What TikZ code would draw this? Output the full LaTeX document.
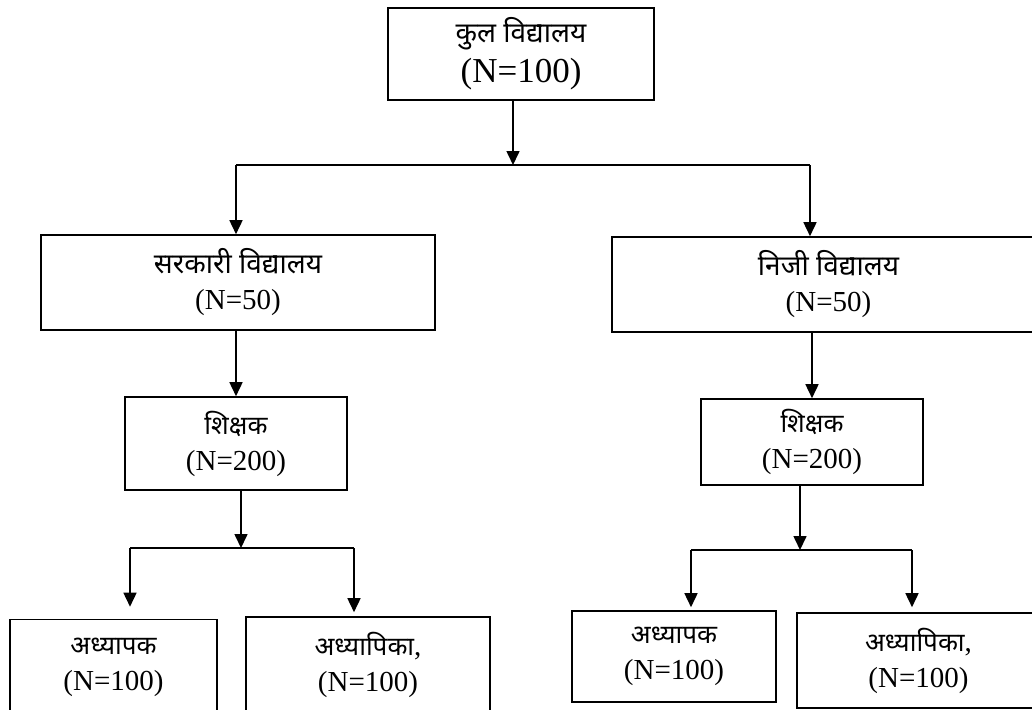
\documentclass[tikz,border=0pt]{standalone}
\usepackage{fontspec}
\setmainfont{Liberation Serif}
\newfontfamily\hindi[Script=Devanagari]{Noto Sans}
\newcommand\hin[1]{{\hindi\fontsize{26}{36}\selectfont #1}}
\usetikzlibrary{
	arrows.meta
}

\begin{document}
\begin{tikzpicture}[
		x=1pt, y=-1pt,
		line width=1.6pt,
		box/.style={draw, align=center, inner sep=0pt, font=\fontsize{29}{36}\selectfont},
		flow/.style={-{Triangle[width=13pt,length=14pt]}}
		]
		
		\clip (0,0) rectangle (1032,709);
		
		\node[box, minimum width=266pt, minimum height=92pt, font=\fontsize{35}{40}\selectfont] (total) at (521,54) {{\hindi\fontsize{28}{40}\selectfont कुल विद्यालय}\\(N=100)};
		
		\node[box, minimum width=394pt, minimum height=95pt] (gov) at (238,282.5) {{\hindi\fontsize{28}{36}\selectfont सरकारी विद्यालय}\\(N=50)};
		\node[box, minimum width=433pt, minimum height=95pt] (pvt) at (828.5,284.5) {{\hindi\fontsize{28}{36}\selectfont निजी विद्यालय}\\(N=50)};
		
		\node[box, minimum width=222pt, minimum height=93pt] (govT) at (236,443.5) {\hin{शिक्षक}\\(N=200)};
		\node[box, minimum width=222pt, minimum height=86pt] (pvtT) at (812,442) {\hin{शिक्षक}\\(N=200)};
		
		\node[box, minimum width=207pt, minimum height=95pt] (govM) at (113.5,667) {\hin{अध्यापक}\\(N=100)};
		\node[box, minimum width=244pt, minimum height=95pt] (govF) at (368,664.5) {\hin{अध्यापिका},\\(N=100)};
		\node[box, minimum width=204pt, minimum height=91pt] (pvtM) at (674,656.5) {\hin{अध्यापक}\\(N=100)};
		\node[box, minimum width=243pt, minimum height=95pt] (pvtF) at (918.5,660.5) {\hin{अध्यापिका},\\(N=100)};
		
		% first split
		\coordinate (split) at (513,165);
		\coordinate (splitL) at (236,165);
		\coordinate (splitR) at (810,165);
		\draw[flow] (total.south -| split) -- (split);
		\draw (splitL) -- (splitR);
		\draw[flow] (splitL) -- (gov.north -| splitL);
		\draw[flow] (splitR) -- (pvt.north -| splitR);
		
		\draw[flow] (gov.south -| govT.north) -- (govT.north);
		\draw[flow] (pvt.south -| pvtT.north) -- (pvtT.north);
		
		% teachers split
		\coordinate (govS) at (241,548);
		\coordinate (govSL) at (130,548);
		\coordinate (govSR) at (354,548);
		\draw[flow] (govT.south -| govS) -- (govS);
		\draw (govSL) -- (govSR);
		\draw[flow, shorten >=12pt] (govSL) -- (govM.north -| govSL);
		\draw[flow, shorten >=4pt] (govSR) -- (govF.north -| govSR);
		
		\coordinate (pvtS) at (800,550);
		\coordinate (pvtSL) at (691,550);
		\coordinate (pvtSR) at (912,550);
		\draw[flow] (pvtT.south -| pvtS) -- (pvtS);
		\draw (pvtSL) -- (pvtSR);
		\draw[flow, shorten >=3pt] (pvtSL) -- (pvtM.north -| pvtSL);
		\draw[flow, shorten >=5pt] (pvtSR) -- (pvtF.north -| pvtSR);
		
	\end{tikzpicture}
\end{document}
